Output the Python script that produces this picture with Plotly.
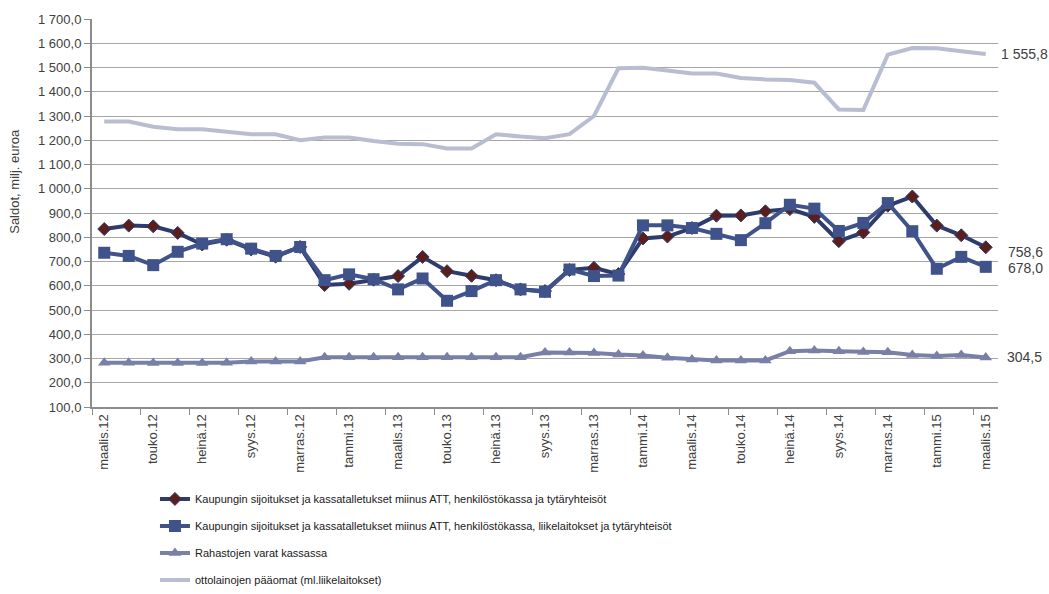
import plotly.graph_objects as go

months = ["maalis.12","huhti.12","touko.12","kesä.12","heinä.12","elo.12","syys.12","loka.12","marras.12","joulu.12",
          "tammi.13","helmi.13","maalis.13","huhti.13","touko.13","kesä.13","heinä.13","elo.13","syys.13","loka.13","marras.13","joulu.13",
          "tammi.14","helmi.14","maalis.14","huhti.14","touko.14","kesä.14","heinä.14","elo.14","syys.14","loka.14","marras.14","joulu.14",
          "tammi.15","helmi.15","maalis.15"]

s1_name = "Kaupungin sijoitukset ja kassatalletukset miinus ATT, henkilöstökassa ja tytäryhteisöt"
s1 = [834, 848, 845, 818, 770, 790, 750, 720, 760, 603, 608, 625, 640, 719, 660, 641, 623, 585, 578, 665,
      674, 648, 795, 803, 838, 889, 890, 907, 916, 884, 784, 820, 930, 968, 848, 808, 758.6]

s2_name = "Kaupungin sijoitukset ja kassatalletukset miinus ATT, henkilöstökassa, liikelaitokset ja tytäryhteisöt"
s2 = [736, 723, 685, 740, 774, 792, 753, 723, 760, 623, 647, 627, 585, 630, 538, 578, 623, 585, 575, 667,
      640, 642, 849, 849, 838, 814, 788, 858, 934, 918, 826, 859, 941, 825, 670, 719, 678.0]

s3_name = "Rahastojen varat kassassa"
s3 = [282, 282, 281, 281, 281, 282, 288, 288, 288, 305, 305, 305, 305, 305, 305, 305, 305, 305, 325, 325,
      323, 316, 312, 303, 296, 292, 292, 292, 330, 333, 330, 327, 326, 314, 310, 314, 304.5]

s4_name = "ottolainojen pääomat (ml.liikelaitokset)"
s4 = [1277, 1277, 1256, 1245, 1245, 1234, 1225, 1225, 1200, 1211, 1211, 1197, 1186, 1184, 1166, 1166, 1225, 1215, 1208, 1225,
      1300, 1497, 1499, 1488, 1475, 1475, 1457, 1451, 1448, 1437, 1327, 1325, 1553, 1580, 1579, 1567, 1555.8]

end_labels = ["758,6", "678,0", "304,5", "1 555,8"]

x = list(range(len(months)))
tick_idx = list(range(0, len(months), 2))
tick_text = [months[i] for i in tick_idx]

FONT = "Liberation Sans"

# figure is a bit taller than the window (cropped) so the legend does not push the margins
W, H = 1049, 620
L, T = 92, 16
PLOT_W = 906.5
PLOT_BOTTOM = 407
PLOT_H = PLOT_BOTTOM - T

fig = go.Figure()
fig.add_trace(go.Scatter(x=x, y=s4, name=s4_name, mode="lines",
                         line=dict(color="#B9BDD1", width=4), legendgroup="d", legendrank=4))
fig.add_trace(go.Scatter(x=x, y=s3, name=s3_name, mode="lines+markers",
                         line=dict(color="#7880A8", width=4),
                         marker=dict(symbol="triangle-up", size=11, color="#7880A8"),
                         legendgroup="c", legendrank=3))
fig.add_trace(go.Scatter(x=x, y=s1, name=s1_name, mode="lines+markers",
                         line=dict(color="#2D3C6C", width=4),
                         marker=dict(symbol="diamond", size=10, color="#5A1F1C",
                                     line=dict(color="#2D3C6C", width=1)),
                         legendgroup="a", legendrank=1))
fig.add_trace(go.Scatter(x=x, y=s2, name=s2_name, mode="lines+markers",
                         line=dict(color="#40528A", width=4),
                         marker=dict(symbol="square", size=12, color="#40528A"),
                         legendgroup="b", legendrank=2))

# end-of-series labels
label_pos = [(36, 741, 20), (36, 674, 20), (36, 306, 19), (36, 1554, 13)]
for txt, (xi, yv, xs) in zip(end_labels, label_pos):
    fig.add_annotation(x=xi, y=yv, xref="x", yref="y", text=txt, showarrow=False,
                       xanchor="left", yanchor="middle", xshift=xs,
                       font=dict(family=FONT, size=14, color="#404040"))

fig.add_annotation(x=(15 - L) / PLOT_W, y=(PLOT_BOTTOM - 180) / PLOT_H,
                   xref="paper", yref="paper", text="Saldot, milj. euroa",
                   showarrow=False, textangle=-90, xanchor="center", yanchor="middle",
                   font=dict(family=FONT, size=13, color="#404040"))

fig.update_layout(
    width=W, height=H,
    margin=dict(l=L, r=W - L - PLOT_W, t=T, b=H - PLOT_BOTTOM),
    paper_bgcolor="white", plot_bgcolor="white",
    separators=", ",
    showlegend=True,
    legend=dict(x=(155 - L) / PLOT_W, y=-(485 - PLOT_BOTTOM) / PLOT_H, xanchor="left", yanchor="top",
                font=dict(family=FONT, size=11, color="#202020"),
                tracegroupgap=8, traceorder="grouped", itemwidth=30, bgcolor="rgba(0,0,0,0)"),
    font=dict(family=FONT, size=13, color="#404040"),
)

fig.update_xaxes(range=[-0.5, 36.5], tickvals=tick_idx, ticktext=tick_text, tickangle=-90,
                 ticks="", showgrid=False, showline=True, linecolor="#8C8C8C", linewidth=2,
                 tickfont=dict(family=FONT, size=13, color="#404040"), zeroline=False,
                 minor=dict(tickvals=[i - 0.5 for i in range(0, 38, 2)], ticks="outside",
                            ticklen=6, tickcolor="#8C8C8C", tickwidth=1, showgrid=False))
fig.update_yaxes(range=[100, 1700], dtick=100, tick0=100, tickformat=",.1f",
                 showgrid=True, gridcolor="#A6A6A6", gridwidth=1,
                 showline=True, linecolor="#8C8C8C", linewidth=2,
                 ticks="outside", ticklen=6, tickcolor="#8C8C8C", zeroline=False,
                 tickfont=dict(family=FONT, size=13, color="#404040"))

fig.write_html("out.html", config={"displayModeBar": False},
               post_script="document.body.style.margin='0';document.body.style.overflow='hidden';")
